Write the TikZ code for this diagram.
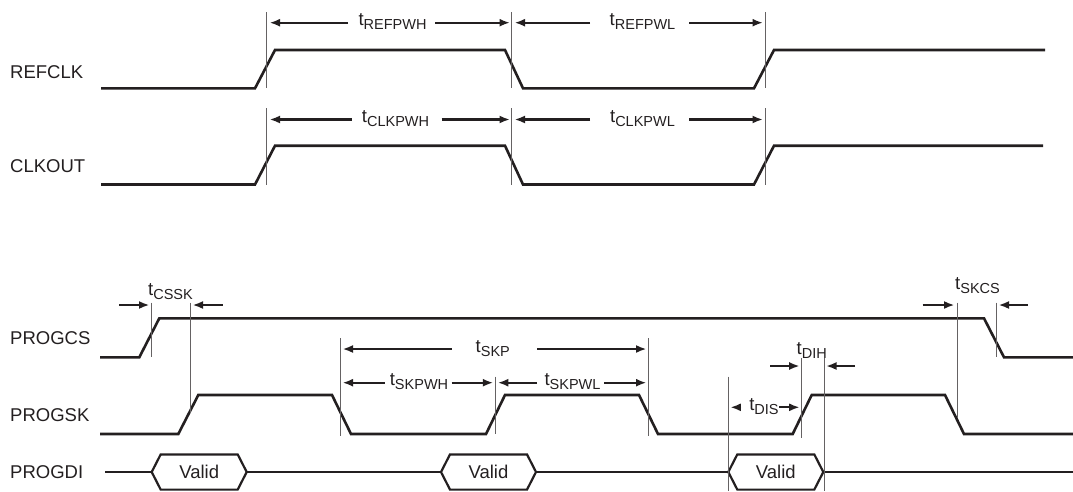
\documentclass[tikz,border=0pt]{standalone}
\usepackage{fontspec}
\setmainfont{Liberation Sans}
\usetikzlibrary{arrows.meta}
\definecolor{ink}{HTML}{231F20}
\newcommand{\tsb}[1]{t\raisebox{-4pt}{\fontsize{14.5}{14.5}\selectfont #1}}
\begin{document}
\begin{tikzpicture}[x=1pt,y=-1pt,
  sig/.style={line width=2.6pt,color=ink,line join=miter},
  vl/.style={line width=1pt,color=ink!70},
  dim/.style={line width=2.2pt,color=ink,-{Latex[length=10.5pt,width=8pt]}},
  sname/.style={font=\fontsize{18.5}{20}\selectfont,text=ink,anchor=base west,inner sep=0pt},
  tlab/.style={font=\fontsize{18.5}{20}\selectfont,text=ink,anchor=base,inner sep=0pt},
  hexs/.style={line width=2.2pt,color=ink,line join=miter}]
\useasboundingbox (0,0) rectangle (1073,491);

% ---------- signal names ----------
\node[sname] (nREF) at (10,78.3) {REFCLK};
\node[sname] (nCLK) at (10,172.3) {CLKOUT};
\node[sname] (nCS)  at (10,344.3) {PROGCS};
\node[sname] (nSK)  at (10,421.7) {PROGSK};
\node[sname] (nDI)  at (10,478.3) {PROGDI};

% ---------- REFCLK ----------
\draw[sig] (101,88.3) -- (255,88.3) -- (275,50) -- (505,50) -- (523,88.3) -- (754,88.3) -- (774,50) -- (1045,50);
\foreach \x in {266.7,511.7,765} \draw[vl] (\x,12) -- (\x,88.3);
\draw[dim] (348,22.7) -- (269.5,22.7);
\node[tlab] (lREFPWH) at (392.5,25.8) {\tsb{REFPWH}};
\draw[dim] (435,22.7) -- (510,22.7);
\draw[dim] (590,22.7) -- (514.5,22.7);
\node[tlab] (lREFPWL) at (642.5,25.8) {\tsb{REFPWL}};
\draw[dim] (689,22.7) -- (763,22.7);

% ---------- CLKOUT ----------
\draw[sig] (101,184.5) -- (255,184.5) -- (275,145.7) -- (505,145.7) -- (523,184.5) -- (754,184.5) -- (774,145.7) -- (1043,145.7);
\foreach \x in {266.7,511.7,765} \draw[vl] (\x,108) -- (\x,185);
\draw[dim] (351.7,119.5) -- (269.5,119.5);
\node[tlab] (lCLKPWH) at (395.5,122.5) {\tsb{CLKPWH}};
\draw[dim] (441.7,119.5) -- (510,119.5);
\draw[dim] (590,119.5) -- (514.5,119.5);
\node[tlab] (lCLKPWL) at (642.5,122.5) {\tsb{CLKPWL}};
\draw[dim] (689,119.5) -- (763,119.5);

% ---------- PROGCS ----------
\draw[sig] (100,357.3) -- (139.3,357.3) -- (159.3,318.3) -- (984,318.3) -- (1004,357.3) -- (1073,357.3);

% ---------- PROGSK ----------
\draw[sig] (100,434) -- (178.3,434) -- (198.3,395) -- (332,395) -- (351,434) -- (486,434) -- (505,395)
  -- (639,395) -- (658,434) -- (792.7,434) -- (811.7,395) -- (945,395) -- (964,434) -- (1073,434);

% ---------- PROGDI ----------
\draw[sig] (105,472) -- (151.7,472);
\draw[sig] (246.7,472) -- (441,472);
\draw[sig] (536,472) -- (728.3,472);
\draw[sig] (823.3,472) -- (1073,472);
\foreach \x/\n in {151.7/vA,441/vB,728.3/vC}{
  \draw[hexs] (\x,472) -- ++(9,-17.6) -- ++(77,0) -- ++(9,17.6) -- ++(-9,17.6) -- ++(-77,0) -- cycle;
  \node[tlab] (\n) at (\x+47.5,478) {Valid};
}

% ---------- vertical reference lines (lower) ----------
\draw[vl] (151.7,302.7) -- (151.7,357.3);
\draw[vl] (190,302.7) -- (190,413);
\draw[vl] (957,302.7) -- (957,418);
\draw[vl] (996,302.7) -- (996,357.3);
\draw[vl] (340,338) -- (340,436);
\draw[vl] (648.7,338) -- (648.7,436);
\draw[vl] (495.5,376.7) -- (495.5,434);
\draw[vl] (728.3,376.7) -- (728.3,491);
\draw[vl] (801.7,358.3) -- (801.7,438);
\draw[vl] (824,358.3) -- (824,491);

% ---------- tCSSK / tSKCS ----------
\node[sname] (lCSSK) at (148,295) {\tsb{CSSK}};
\draw[dim] (119,305) -- (149.5,305);
\draw[dim] (222.7,305) -- (192.5,305);
\node[sname] (lSKCS) at (955,289) {\tsb{SKCS}};
\draw[dim] (922.7,305) -- (954.5,305);
\draw[dim] (1028,305) -- (998.5,305);

% ---------- tSKP, tSKPWH, tSKPWL ----------
\draw[dim] (451.7,349) -- (342.5,349);
\node[tlab] (lSKP) at (492.8,352.5) {\tsb{SKP}};
\draw[dim] (537,349) -- (646.5,349);
\draw[dim] (384.5,382.7) -- (342.5,382.7);
\node[tlab] (lSKPWH) at (419,385.8) {\tsb{SKPWH}};
\draw[dim] (451.7,382.7) -- (493.3,382.7);
\draw[dim] (537,382.7) -- (497.8,382.7);
\node[tlab] (lSKPWL) at (572.5,385.8) {\tsb{SKPWL}};
\draw[dim] (604,382.7) -- (646.5,382.7);

% ---------- tDIH / tDIS ----------
\node[tlab] (lDIH) at (811.7,354) {\tsb{DIH}};
\draw[dim] (770,366) -- (799.7,366);
\draw[dim] (855,366) -- (826,366);
\draw[dim] (741,407.3) -- (730.3,407.3);
\node[tlab] (lDIS) at (764,410.5) {\tsb{DIS}};
\draw[dim] (779,407.3) -- (799.7,407.3);
\end{tikzpicture}
\end{document}
